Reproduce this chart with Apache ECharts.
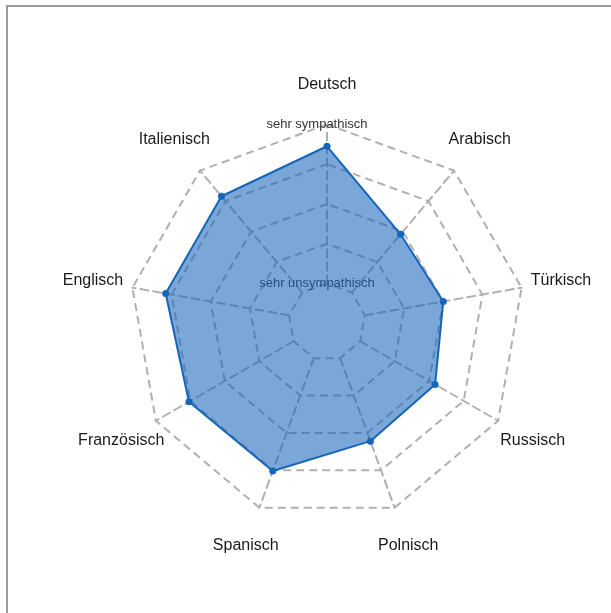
<!DOCTYPE html>
<html>
<head>
<meta charset="utf-8">
<script src="https://cdn.jsdelivr.net/npm/echarts@6/dist/echarts.min.js"></script>
<style>
    html, body { margin: 0; padding: 0; background: #fff; }
    #chart { width: 611px; height: 613px; }
    #frame {
        position: absolute; left: 6px; top: 5px; right: 0; bottom: 0;
        border-top: 2px solid #9a9a9a; border-left: 2px solid #9a9a9a;
        pointer-events: none;
    }
</style>
</head>
<body>
<div id="chart"></div>
<div id="frame"></div>
<script>
// Sprachen gegen den Uhrzeigersinn, beginnend oben
const languages = ['Deutsch', 'Italienisch', 'Englisch', 'Französisch', 'Spanisch',
                   'Polnisch', 'Russisch', 'Türkisch', 'Arabisch'];
const sympathy = [4.45, 4.16, 4.15, 4.04, 4.02, 3.22, 3.17, 3.00, 2.91];
// Skala 1 (sehr unsympathisch) bis 5 (sehr sympathisch)
const scaleMin = 1;
const scaleMax = 5;
const scaleLabels = ['sehr unsympathisch', 'sehr sympathisch'];

const gridLine = { color: '#b0b0b0', width: 2, type: [8, 5] };

const indicator = languages.map((name, i) => {
    const item = { name: name, min: scaleMin, max: scaleMax };
    if (i === 0) {
        // Skalenbeschriftung nur an der ersten Achse
        item.axisLabel = {
            show: true,
            color: '#333',
            fontSize: 13,
            fontFamily: 'Liberation Sans',
            align: 'center',
            verticalAlign: 'middle',
            margin: 10,
            padding: [0, 0, 6, 0],
            formatter: v => v === scaleMin ? scaleLabels[0] : (v === scaleMax ? scaleLabels[1] : '')
        };
    }
    return item;
});

const chart = echarts.init(document.getElementById('chart'));
chart.setOption({
    animation: false,
    radar: {
        center: [327, 322],
        radius: [38.5, 197.6],
        startAngle: 90,
        splitNumber: 4,
        shape: 'polygon',
        nameGap: 40,
        axisName: {
            color: '#1a1a1a',
            fontSize: 16,
            fontFamily: 'Liberation Sans',
            align: 'center',
            verticalAlign: 'middle'
        },
        axisLine: { lineStyle: gridLine },
        splitLine: { lineStyle: gridLine },
        splitArea: { show: false },
        axisTick: { show: false },
        axisLabel: { show: false },
        indicator: indicator
    },
    series: [{
        type: 'radar',
        symbol: 'circle',
        symbolSize: 7,
        lineStyle: { color: '#1565b8', width: 2 },
        itemStyle: { color: '#1565b8' },
        areaStyle: { color: '#1565b8', opacity: 0.57 },
        data: [{ value: sympathy }]
    }]
});
</script>
</body>
</html>
